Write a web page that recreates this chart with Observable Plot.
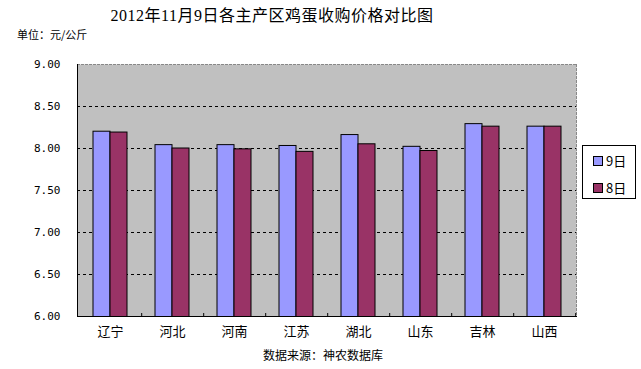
<!DOCTYPE html>
<html>
<head>
<meta charset="utf-8">
<script src="https://cdn.jsdelivr.net/npm/d3@7"></script>
<script src="https://cdn.jsdelivr.net/npm/@observablehq/plot@0.6"></script>
<style>
  html, body { margin: 0; padding: 0; background: #fff; }
  #wrap { position: relative; width: 641px; height: 369px; overflow: hidden; font-family: "Noto Sans CJK SC", sans-serif; }
  #title { position: absolute; left: 0; width: 544px; top: 6px; text-align: center; font-family: "Liberation Serif", "Noto Sans CJK SC", serif; font-size: 16px; line-height: 20px; color: #000; letter-spacing: 0.5px; }
  #unit { position: absolute; left: 17px; top: 27px; font-size: 11px; line-height: 14px; color: #000; }
  #caption { position: absolute; left: 0; width: 646px; top: 347px; text-align: center; font-size: 12px; line-height: 16px; color: #000; }
  #legend { position: absolute; left: 582px; top: 145px; width: 54px; height: 54px; border: 1px solid #000; background: #fff; box-sizing: border-box; }
  .li { position: absolute; left: 10px; height: 16px; display: flex; align-items: center; font-size: 13px; line-height: 16px; }
  .sw { width: 8px; height: 8px; border: 1px solid #000; margin-right: 3px; }
  svg text { fill: #000; }
  [aria-label="y-axis tick label"] text { font-family: "DejaVu Sans Mono", monospace; font-size: 11px; }
  [aria-label="x-axis tick label"] text { font-family: "Noto Sans CJK SC", sans-serif; font-size: 13px; }
</style>
</head>
<body>
<div id="wrap">
  <div id="title"></div>
  <div id="unit"></div>
  <div id="legend"></div>
  <div id="caption"></div>
</div>
<script>
const titleText = "2012年11月9日各主产区鸡蛋收购价格对比图";
const unitText = "单位：元/公斤";
const captionText = "数据来源：神农数据库";
const regions = ["辽宁", "河北", "河南", "江苏", "湖北", "山东", "吉林", "山西"];
const seriesNames = ["9日", "8日"];
const day9 = [8.20, 8.04, 8.04, 8.03, 8.16, 8.02, 8.29, 8.26];
const day8 = [8.19, 8.00, 7.99, 7.96, 8.05, 7.97, 8.26, 8.26];
const yTicks = [6.0, 6.5, 7.0, 7.5, 8.0, 8.5, 9.0];
const colors = ["#9999ff", "#993366"];

const rows9 = regions.map((r, i) => ({region: r, value: day9[i]}));
const rows8 = regions.map((r, i) => ({region: r, value: day8[i]}));

const W = 641, H = 369;
const mL = 77, mR = 65, mT = 64, mB = 53;
const step = (W - mL - mR) / regions.length;
const pad = 0.455;
const half = step * (1 - pad) / 2;

const chart = Plot.plot({
  width: W,
  height: H,
  marginLeft: mL,
  marginRight: mR,
  marginTop: mT,
  marginBottom: mB,
  style: {background: "transparent", overflow: "visible"},
  x: {domain: regions, paddingInner: pad, paddingOuter: pad / 2, label: null},
  y: {domain: [6, 9], label: null},
  marks: [
    Plot.frame({fill: "#c0c0c0", stroke: null}),
    Plot.gridY(yTicks.slice(1, -1), {stroke: "#000", strokeOpacity: 1, strokeDasharray: "3,3"}),
    Plot.frame({anchor: "top", stroke: "#888", strokeDasharray: "2,2"}),
    Plot.frame({anchor: "right", stroke: "#888", strokeDasharray: "2,2"}),
    Plot.barY(rows9, {x: "region", y: "value", fill: colors[0], stroke: "#000", insetRight: half, clip: true}),
    Plot.barY(rows8, {x: "region", y: "value", fill: colors[1], stroke: "#000", insetLeft: half, clip: true}),
    Plot.frame({anchor: "left", stroke: "#000"}),
    Plot.frame({anchor: "bottom", stroke: "#000"}),
    Plot.axisY(yTicks, {tickSize: 0, tickPadding: 17, tickFormat: d => d.toFixed(2), fontSize: 11}),
    Plot.axisX({tickSize: 0, tickPadding: 10, fontSize: 13}),
    Plot.axisX({text: null, tickSize: -3, dx: step / 2, stroke: "#000"})
  ]
});

document.getElementById("wrap").insertBefore(chart, document.getElementById("title"));
chart.style.position = "absolute";
chart.style.left = "0px";
chart.style.top = "0px";

document.getElementById("title").textContent = titleText;
document.getElementById("unit").textContent = unitText;
document.getElementById("caption").textContent = captionText;

const legend = document.getElementById("legend");
seriesNames.forEach((name, i) => {
  const item = document.createElement("div");
  item.className = "li";
  item.style.top = (7 + i * 27) + "px";
  const sw = document.createElement("span");
  sw.className = "sw";
  sw.style.background = colors[i];
  const tx = document.createElement("span");
  tx.textContent = name;
  item.appendChild(sw);
  item.appendChild(tx);
  legend.appendChild(item);
});
</script>
</body>
</html>
